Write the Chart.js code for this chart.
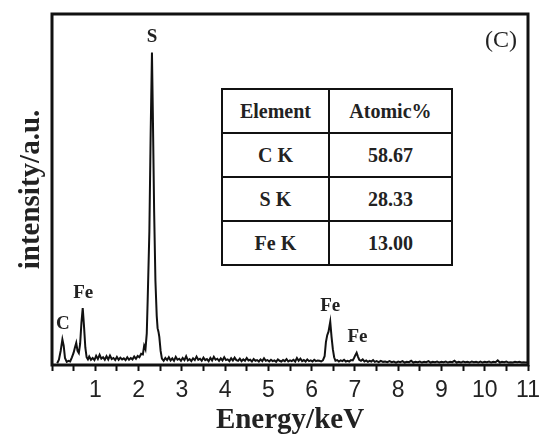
<!DOCTYPE html>
<html>
<head>
<meta charset="utf-8">
<script src="https://cdn.jsdelivr.net/npm/chart.js@4"></script>
<style>
    body { margin: 0; background: #fff; }
    #wrap { position: relative; width: 543px; height: 436px; overflow: hidden; }
    #eds_table {
        position: absolute; left: 221px; top: 88px; width: 232px; height: 171px;
        border-collapse: collapse; background: #fff;
        border: 2.5px solid #111;
        font: bold 20px "Liberation Serif", "Times New Roman", serif; color: #222;
    }
    #eds_table td { border: 2px solid #111; text-align: center; padding: 0; height: 42px; }
</style>
</head>
<body>
<div id="wrap">
    <canvas id="edsChart" width="543" height="436"></canvas>
    <table id="eds_table"><tbody></tbody></table>
</div>
<script>
// спектр EDS, интенсивность в у.е. (0..100 по высоте рамки)
const energy = [
    0.12, 0.16, 0.20, 0.24, 0.27, 0.30, 0.34, 0.38, 0.42, 0.46, 0.50, 0.53, 0.56, 0.59, 0.62, 0.65, 0.68, 0.71, 0.74, 0.77, 0.80, 0.83, 0.86,
    0.90, 0.94, 0.98, 1.02, 1.06, 1.10, 1.14, 1.18, 1.22, 1.26, 1.30, 1.34, 1.38, 1.42, 1.46, 1.50, 1.54, 1.58, 1.62, 1.66, 1.70, 1.74, 1.78, 1.82, 1.86, 1.90, 1.94, 1.98, 2.02, 2.06, 2.10,
    2.13, 2.16, 2.19, 2.21, 2.25, 2.28, 2.31, 2.33, 2.36, 2.39, 2.42, 2.44, 2.46, 2.48, 2.51, 2.54, 2.58, 2.62,
    2.66, 2.70, 2.74, 2.78, 2.82, 2.86, 2.90, 2.94, 2.98, 3.02, 3.06, 3.10, 3.14, 3.18, 3.22, 3.26, 3.30, 3.34, 3.38, 3.42, 3.46, 3.50, 3.54, 3.58, 3.62, 3.66, 3.70, 3.74, 3.78, 3.82, 3.86, 3.90, 3.94, 3.98,
    4.02, 4.06, 4.10, 4.14, 4.18, 4.22, 4.26, 4.30, 4.34, 4.38, 4.42, 4.46, 4.50, 4.54, 4.58, 4.62, 4.66, 4.70, 4.74, 4.78, 4.82, 4.86, 4.90, 4.94, 4.98,
    5.02, 5.06, 5.10, 5.14, 5.18, 5.22, 5.26, 5.30, 5.34, 5.38, 5.42, 5.46, 5.50, 5.54, 5.58, 5.62, 5.66, 5.70, 5.74, 5.78, 5.82, 5.86, 5.90, 5.94, 5.98,
    6.02, 6.06, 6.10, 6.14, 6.18, 6.22, 6.26, 6.30, 6.33, 6.36, 6.39, 6.43, 6.46, 6.49, 6.52, 6.55, 6.59, 6.63, 6.67, 6.71, 6.75, 6.79, 6.83, 6.87, 6.91, 6.95, 6.98,
    7.01, 7.04, 7.07, 7.10, 7.14, 7.18, 7.22, 7.26, 7.30, 7.34, 7.38, 7.42, 7.46, 7.50, 7.55, 7.60, 7.65, 7.70, 7.75, 7.80, 7.85, 7.90, 7.95,
    8.00, 8.05, 8.10, 8.15, 8.20, 8.25, 8.30, 8.35, 8.40, 8.45, 8.50, 8.55, 8.60, 8.65, 8.70, 8.75, 8.80, 8.85, 8.90, 8.95,
    9.00, 9.05, 9.10, 9.15, 9.20, 9.25, 9.30, 9.35, 9.40, 9.45, 9.50, 9.55, 9.60, 9.65, 9.70, 9.75, 9.80, 9.85, 9.90, 9.95,
    10.00, 10.05, 10.10, 10.15, 10.20, 10.25, 10.30, 10.35, 10.40, 10.45, 10.50, 10.55, 10.60, 10.65, 10.70, 10.75, 10.80, 10.85, 10.90, 10.95, 11.00
];
const intensity = [
    0.5, 1.5, 4.0, 7.3, 5.5, 2.0, 0.9, 1.2, 1.0, 2.2, 3.5, 5.0, 6.3, 4.0, 3.4, 6.0, 12.0, 16.2, 11.0, 5.0, 2.2, 1.6, 2.4,
    1.5, 2.0, 1.4, 2.6, 1.7, 2.9, 1.8, 2.2, 1.5, 2.5, 1.6, 2.7, 1.7, 2.0, 1.4, 2.3, 1.5, 2.1, 1.6, 1.9, 1.4, 2.2, 1.5, 2.0, 1.6, 2.4, 1.8, 2.6, 2.2, 3.2, 3.0,
    5.5, 4.5, 9.0, 18.0, 38.0, 66.0, 89.0, 72.0, 44.0, 24.0, 14.0, 10.5, 9.5, 8.0, 4.0, 1.8, 1.2, 2.0,
    1.4, 2.2, 1.3, 1.9, 1.2, 2.3, 1.5, 1.8, 1.2, 2.0, 1.4, 2.5, 1.3, 1.7, 1.1, 1.9, 1.4, 2.4, 1.5, 1.8, 1.2, 2.1, 1.4, 1.7, 1.1, 2.0, 1.3, 2.3, 1.5, 1.8, 1.2, 1.9, 1.3, 2.2,
    1.4, 1.6, 1.1, 1.9, 1.3, 2.1, 1.4, 1.2, 1.8, 1.1, 1.6, 1.2, 2.0, 1.3, 1.5, 1.0, 1.7, 1.2, 1.4, 1.0, 1.6, 1.1, 1.9, 1.2, 1.4,
    1.0, 1.5, 1.1, 1.3, 0.9, 1.6, 1.2, 1.0, 1.4, 1.1, 1.7, 1.0, 1.3, 1.1, 1.5, 1.0, 2.0, 1.2, 1.8, 1.1, 1.4, 1.0, 1.6, 1.1, 1.3,
    1.0, 1.5, 1.1, 1.3, 1.2, 1.0, 1.3, 2.5, 6.5, 8.5, 9.5, 12.3, 8.0, 4.5, 2.2, 1.2, 1.4, 1.0, 1.3, 1.1, 1.5, 1.0, 1.2, 1.0, 1.4, 1.3, 2.0,
    2.8, 3.5, 2.4, 1.5, 1.2, 1.6, 1.0, 1.3, 0.9, 1.2, 1.0, 1.4, 0.9, 1.1, 0.8, 1.2, 0.9, 1.0, 0.8, 1.1, 0.8, 1.0, 0.7,
    1.0, 0.8, 1.1, 0.7, 0.9, 0.8, 1.2, 0.7, 0.9, 0.8, 1.0, 0.7, 0.9, 0.8, 1.1, 0.7, 0.9, 0.8, 1.0, 0.7,
    0.9, 0.8, 1.0, 0.7, 0.9, 0.8, 1.2, 0.7, 0.9, 0.7, 1.0, 0.8, 0.9, 0.7, 1.0, 0.8, 0.9, 0.7, 1.0, 0.7,
    0.9, 0.8, 1.0, 0.7, 0.9, 0.8, 1.3, 0.7, 0.9, 0.8, 1.0, 0.7, 0.8, 0.7, 0.9, 0.8, 0.9, 0.7, 0.8, 0.7, 0.8
];

// подписи пиков
const peakNames = ["C", "Fe", "S", "Fe", "Fe"];
const peakEnergy = [0.25, 0.72, 2.31, 6.43, 7.06];
const peakTop = [7.3, 16.2, 89.0, 12.3, 3.5];

// таблица состава
const elements = ["C K", "S K", "Fe K"];
const atomicPct = ["58.67", "28.33", "13.00"];

const serif = '"Liberation Serif", "Times New Roman", serif';
const sans = '"Liberation Sans", Arial, sans-serif';

function fillTable() {
    const tbody = document.querySelector("#eds_table tbody");
    tbody.innerHTML = `<tr><td>Element</td><td>Atomic%</td></tr>`;
    elements.forEach((el, i) => {
        tbody.innerHTML += `<tr><td>${el}</td><td>${atomicPct[i]}</td></tr>`;
    });
}

const framePlugin = {
    id: "frame",
    afterDraw(chart) {
        const {ctx, chartArea: a, scales: {x, y}} = chart;
        ctx.save();
        ctx.strokeStyle = "#111";
        ctx.lineWidth = 3;
        ctx.strokeRect(a.left, a.top, a.right - a.left, a.bottom - a.top);

        ctx.fillStyle = "#222";
        ctx.textAlign = "center";
        ctx.textBaseline = "bottom";
        ctx.font = "bold 19px " + serif;
        peakNames.forEach((name, i) => {
            ctx.fillText(name, x.getPixelForValue(peakEnergy[i]), y.getPixelForValue(peakTop[i]) - 6);
        });

        ctx.font = "24px " + serif;
        ctx.textAlign = "right";
        ctx.textBaseline = "middle";
        ctx.fillText("(C)", a.right - 11, a.top + 27);
        ctx.restore();
    }
};

function drawChart() {
    new Chart(document.getElementById("edsChart"), {
        type: "line",
        data: {
            datasets: [{
                data: energy.map((e, i) => ({x: e, y: intensity[i]})),
                borderColor: "#111",
                borderWidth: 2,
                pointRadius: 0,
                tension: 0,
                fill: false
            }]
        },
        options: {
            responsive: false,
            animation: false,
            layout: {padding: {top: 14, right: 0, left: 0, bottom: 0}},
            plugins: {legend: {display: false}, tooltip: {enabled: false}},
            scales: {
                x: {
                    type: "linear",
                    min: 0, max: 11,
                    border: {display: false},
                    grid: {display: true, drawOnChartArea: false, drawTicks: true, tickLength: 6, tickWidth: 2, tickColor: "#111"},
                    ticks: {
                        stepSize: 0.5, autoSkip: false, maxRotation: 0, padding: 6,
                        color: "#222", font: {family: sans, size: 23},
                        callback: v => (Number.isInteger(v) && v !== 0) ? String(v) : ""
                    },
                    title: {
                        display: true, text: "Energy/keV", color: "#222",
                        font: {family: serif, size: 29, weight: "bold", lineHeight: 1},
                        padding: {top: 0, bottom: 1}
                    },
                    afterFit(scale) {
                        scale.height = 71;
                        scale.paddingLeft = 0;
                        scale.paddingRight = 15;
                    }
                },
                y: {
                    min: 0, max: 100,
                    border: {display: false},
                    grid: {display: false},
                    ticks: {display: false},
                    title: {
                        display: true, text: "intensity/a.u.", color: "#222",
                        font: {family: serif, size: 29, weight: "bold", lineHeight: 1.2},
                        padding: {top: 14, bottom: 4}
                    },
                    afterFit(scale) {
                        scale.width = 52;
                    }
                }
            }
        },
        plugins: [framePlugin]
    });
}

fillTable();
drawChart();
</script>
</body>
</html>
